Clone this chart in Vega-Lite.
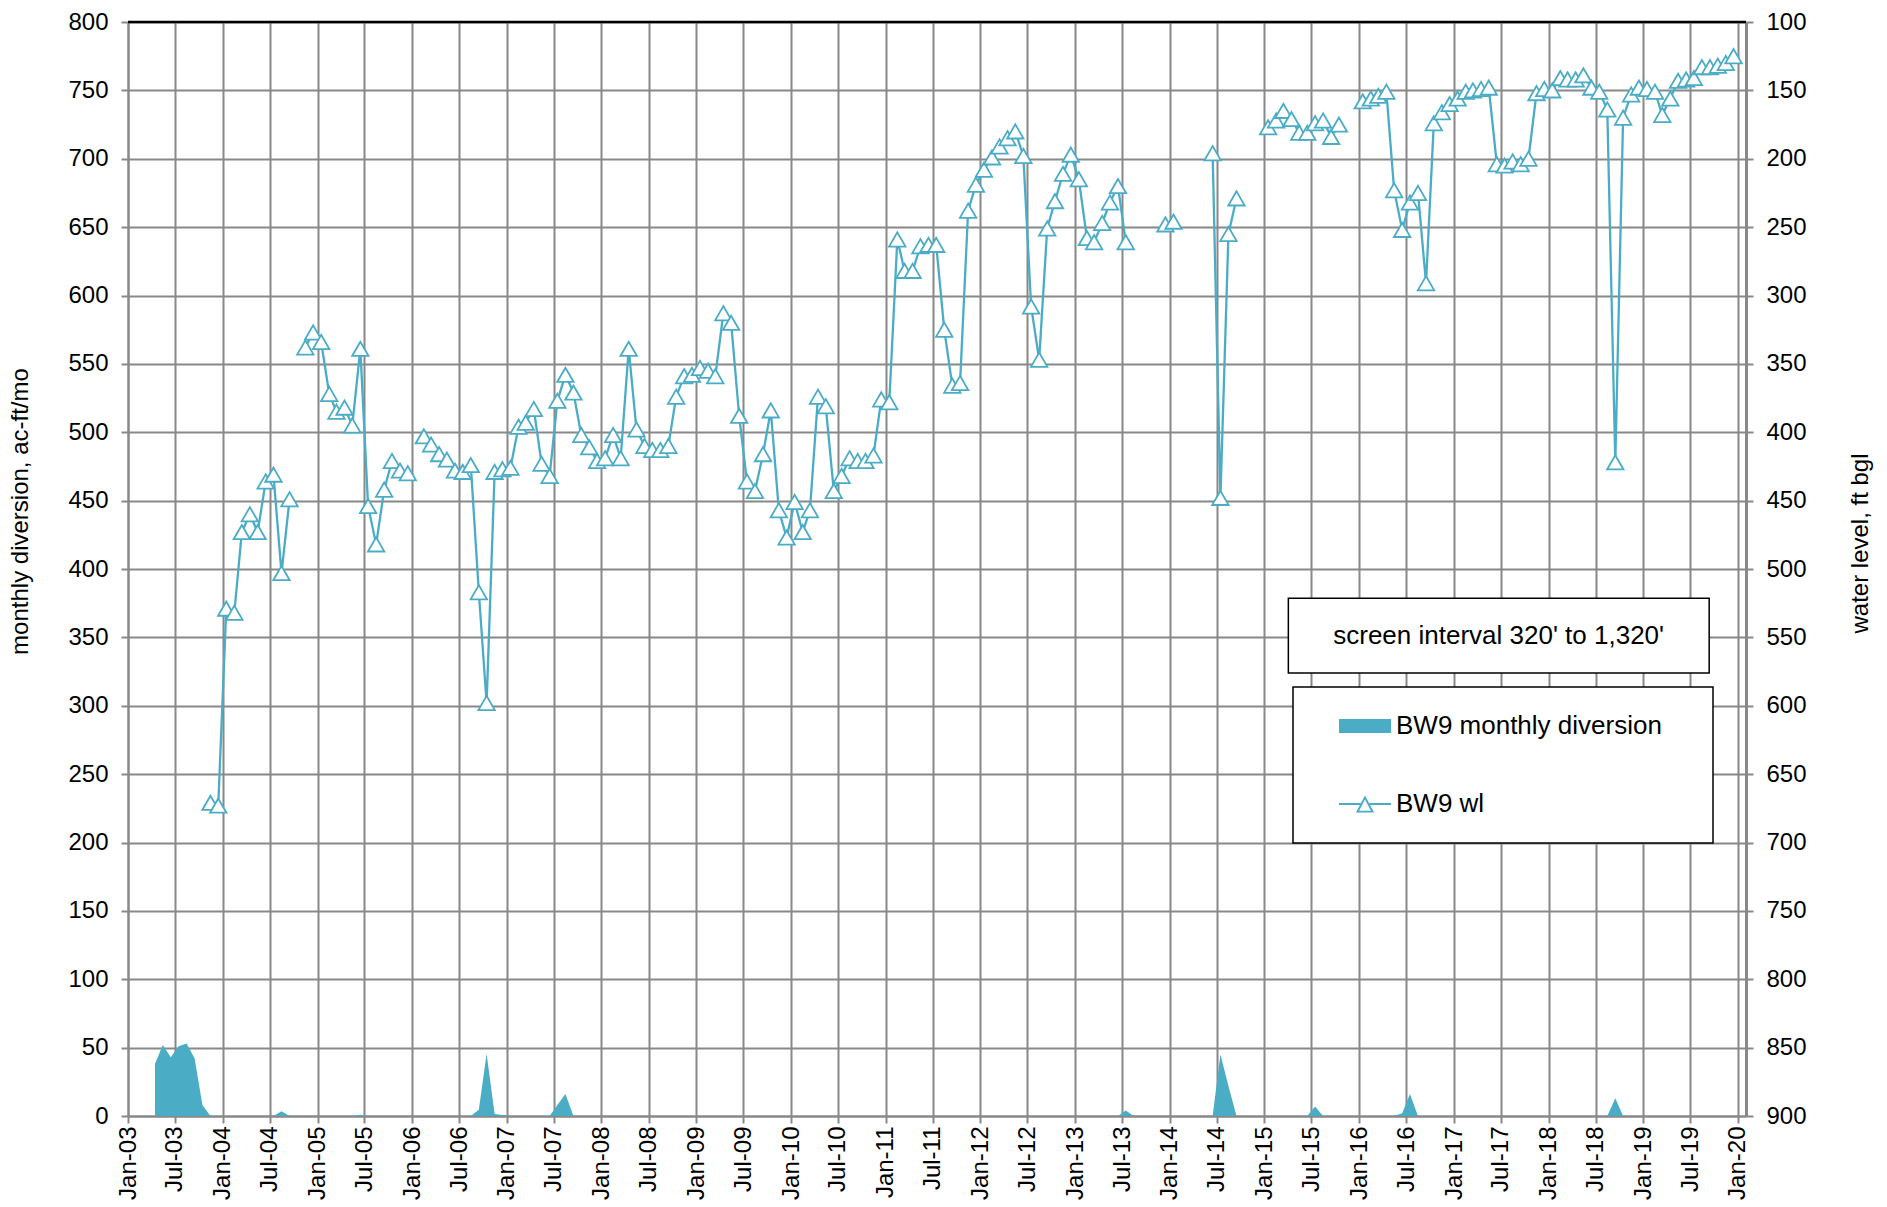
{
"$schema": "https://vega.github.io/schema/vega-lite/v6.json",
"width": 1618, "height": 1094,
"autosize": {"type": "none"},
"padding": {"left": 128, "top": 22, "right": 141, "bottom": 91},
"background": "white",
"config": {
  "font": "Liberation Sans",
  "view": {"stroke": null},
  "axis": {"labelFontSize": 24, "labelColor": "#000", "titleFontSize": 24, "titleFontWeight": "normal", "titleColor": "#000", "gridColor": "#888888", "gridWidth": 2, "gridOpacity": 1, "domainColor": "#888888", "domainWidth": 2, "tickColor": "#888888", "tickWidth": 2, "tickSize": 7},
  "legend": {"symbolStrokeWidth": 0}
},
"datasets": {
"div": [
{"date":"2003-04-15","div":38},{"date":"2003-05-15","div":52},{"date":"2003-06-15","div":43},{"date":"2003-07-15","div":51},{"date":"2003-08-15","div":53},{"date":"2003-09-15","div":42},{"date":"2003-10-15","div":8},{"date":"2003-11-15","div":0},{"date":"2003-12-15","div":0},
{"date":"2004-01-15","div":0},{"date":"2004-02-15","div":0},{"date":"2004-03-15","div":0},{"date":"2004-04-15","div":0},{"date":"2004-05-15","div":0},{"date":"2004-06-15","div":0},{"date":"2004-07-15","div":0},{"date":"2004-08-15","div":3.5},{"date":"2004-09-15","div":0},{"date":"2004-10-15","div":0},{"date":"2004-11-15","div":0},{"date":"2004-12-15","div":0},
{"date":"2005-01-15","div":0},{"date":"2005-02-15","div":0},{"date":"2005-03-15","div":0},{"date":"2005-04-15","div":0},{"date":"2005-05-15","div":0},{"date":"2005-06-15","div":1},{"date":"2005-07-15","div":0},{"date":"2005-08-15","div":0},{"date":"2005-09-15","div":0},{"date":"2005-10-15","div":0},{"date":"2005-11-15","div":0},{"date":"2005-12-15","div":0},
{"date":"2006-01-15","div":0},{"date":"2006-02-15","div":0},{"date":"2006-03-15","div":0},{"date":"2006-04-15","div":0},{"date":"2006-05-15","div":0},{"date":"2006-06-15","div":0},{"date":"2006-07-15","div":0},{"date":"2006-08-15","div":0},{"date":"2006-09-15","div":4.5},{"date":"2006-10-15","div":45.5},{"date":"2006-11-15","div":1.5},{"date":"2006-12-15","div":0.8},
{"date":"2007-01-15","div":0},{"date":"2007-02-15","div":0},{"date":"2007-03-15","div":0},{"date":"2007-04-15","div":0},{"date":"2007-05-15","div":0},{"date":"2007-06-15","div":0},{"date":"2007-07-15","div":8},{"date":"2007-08-15","div":16},{"date":"2007-09-15","div":0},{"date":"2007-10-15","div":0},{"date":"2007-11-15","div":0},{"date":"2007-12-15","div":0},
{"date":"2008-01-15","div":0},{"date":"2008-02-15","div":0},{"date":"2008-03-15","div":0},{"date":"2008-04-15","div":0},{"date":"2008-05-15","div":0},{"date":"2008-06-15","div":0},{"date":"2008-07-15","div":0},{"date":"2008-08-15","div":0},{"date":"2008-09-15","div":0},{"date":"2008-10-15","div":0},{"date":"2008-11-15","div":0},{"date":"2008-12-15","div":0},
{"date":"2009-01-15","div":0},{"date":"2009-02-15","div":0},{"date":"2009-03-15","div":0},{"date":"2009-04-15","div":0},{"date":"2009-05-15","div":0},{"date":"2009-06-15","div":0},{"date":"2009-07-15","div":0},{"date":"2009-08-15","div":0},{"date":"2009-09-15","div":0},{"date":"2009-10-15","div":0},{"date":"2009-11-15","div":0},{"date":"2009-12-15","div":0},
{"date":"2010-01-15","div":0},{"date":"2010-02-15","div":0},{"date":"2010-03-15","div":0},{"date":"2010-04-15","div":0},{"date":"2010-05-15","div":0},{"date":"2010-06-15","div":0},{"date":"2010-07-15","div":0},{"date":"2010-08-15","div":0},{"date":"2010-09-15","div":0},{"date":"2010-10-15","div":0},{"date":"2010-11-15","div":0},{"date":"2010-12-15","div":0},
{"date":"2011-01-15","div":0},{"date":"2011-02-15","div":0},{"date":"2011-03-15","div":0},{"date":"2011-04-15","div":0},{"date":"2011-05-15","div":0},{"date":"2011-06-15","div":0},{"date":"2011-07-15","div":0},{"date":"2011-08-15","div":0},{"date":"2011-09-15","div":0},{"date":"2011-10-15","div":0},{"date":"2011-11-15","div":0},{"date":"2011-12-15","div":0},
{"date":"2012-01-15","div":0},{"date":"2012-02-15","div":0},{"date":"2012-03-15","div":0},{"date":"2012-04-15","div":0},{"date":"2012-05-15","div":0},{"date":"2012-06-15","div":0},{"date":"2012-07-15","div":0},{"date":"2012-08-15","div":0},{"date":"2012-09-15","div":0},{"date":"2012-10-15","div":0},{"date":"2012-11-15","div":0},{"date":"2012-12-15","div":0},
{"date":"2013-01-15","div":0},{"date":"2013-02-15","div":0},{"date":"2013-03-15","div":0},{"date":"2013-04-15","div":0},{"date":"2013-05-15","div":0},{"date":"2013-06-15","div":0},{"date":"2013-07-15","div":4},{"date":"2013-08-15","div":0},{"date":"2013-09-15","div":0},{"date":"2013-10-15","div":0},{"date":"2013-11-15","div":0},{"date":"2013-12-15","div":0},
{"date":"2014-01-15","div":0},{"date":"2014-02-15","div":0},{"date":"2014-03-15","div":0},{"date":"2014-04-15","div":0},{"date":"2014-05-15","div":0},{"date":"2014-06-15","div":0},{"date":"2014-07-15","div":45},{"date":"2014-08-15","div":22},{"date":"2014-09-15","div":0},{"date":"2014-10-15","div":0},{"date":"2014-11-15","div":0},{"date":"2014-12-15","div":0},
{"date":"2015-01-15","div":0},{"date":"2015-02-15","div":0},{"date":"2015-03-15","div":0},{"date":"2015-04-15","div":0},{"date":"2015-05-15","div":0},{"date":"2015-06-15","div":0},{"date":"2015-07-15","div":7},{"date":"2015-08-15","div":0},{"date":"2015-09-15","div":0},{"date":"2015-10-15","div":0},{"date":"2015-11-15","div":0},{"date":"2015-12-15","div":0},
{"date":"2016-01-15","div":0},{"date":"2016-02-15","div":0},{"date":"2016-03-15","div":0},{"date":"2016-04-15","div":0},{"date":"2016-05-15","div":0},{"date":"2016-06-15","div":2},{"date":"2016-07-15","div":16},{"date":"2016-08-15","div":0},{"date":"2016-09-15","div":0},{"date":"2016-10-15","div":0},{"date":"2016-11-15","div":0},{"date":"2016-12-15","div":0},
{"date":"2017-01-15","div":0},{"date":"2017-02-15","div":0},{"date":"2017-03-15","div":0},{"date":"2017-04-15","div":0},{"date":"2017-05-15","div":0},{"date":"2017-06-15","div":0},{"date":"2017-07-15","div":0},{"date":"2017-08-15","div":0},{"date":"2017-09-15","div":0},{"date":"2017-10-15","div":0},{"date":"2017-11-15","div":0},{"date":"2017-12-15","div":0},
{"date":"2018-01-15","div":0},{"date":"2018-02-15","div":0},{"date":"2018-03-15","div":0},{"date":"2018-04-15","div":0},{"date":"2018-05-15","div":0},{"date":"2018-06-15","div":0},{"date":"2018-07-15","div":0},{"date":"2018-08-15","div":0},{"date":"2018-09-15","div":13},{"date":"2018-10-15","div":0},{"date":"2018-11-15","div":0},{"date":"2018-12-15","div":0},
{"date":"2019-01-15","div":0},{"date":"2019-02-15","div":0},{"date":"2019-03-15","div":0},{"date":"2019-04-15","div":0},{"date":"2019-05-15","div":0},{"date":"2019-06-15","div":0},{"date":"2019-07-15","div":0},{"date":"2019-08-15","div":0},{"date":"2019-09-15","div":0},{"date":"2019-10-15","div":0},{"date":"2019-11-15","div":0},{"date":"2019-12-15","div":0}
],
"wl": [
{"date":"2003-11-15","wl":671,"seg":1},{"date":"2003-12-15","wl":673,"seg":1},{"date":"2004-01-15","wl":529,"seg":1},{"date":"2004-02-15","wl":532,"seg":1},{"date":"2004-03-15","wl":473,"seg":1},{"date":"2004-04-15","wl":460,"seg":1},{"date":"2004-05-15","wl":473,"seg":1},{"date":"2004-06-15","wl":436,"seg":1},{"date":"2004-07-15","wl":431,"seg":1},{"date":"2004-08-15","wl":503,"seg":1},{"date":"2004-09-15","wl":449,"seg":1},
{"date":"2004-11-15","wl":338,"seg":2},{"date":"2004-12-15","wl":327,"seg":2},{"date":"2005-01-15","wl":334,"seg":2},{"date":"2005-02-15","wl":372,"seg":2},{"date":"2005-03-15","wl":385,"seg":2},{"date":"2005-04-15","wl":382,"seg":2},{"date":"2005-05-15","wl":395,"seg":2},{"date":"2005-06-15","wl":339,"seg":2},{"date":"2005-07-15","wl":454,"seg":2},{"date":"2005-08-15","wl":482,"seg":2},{"date":"2005-09-15","wl":442,"seg":2},{"date":"2005-10-15","wl":421,"seg":2},{"date":"2005-11-15","wl":428,"seg":2},{"date":"2005-12-15","wl":430,"seg":2},
{"date":"2006-02-15","wl":403,"seg":3},{"date":"2006-03-15","wl":409,"seg":3},{"date":"2006-04-15","wl":416,"seg":3},{"date":"2006-05-15","wl":420,"seg":3},{"date":"2006-06-15","wl":428,"seg":3},{"date":"2006-07-15","wl":429,"seg":3},{"date":"2006-08-15","wl":424,"seg":3},{"date":"2006-09-15","wl":517,"seg":3},{"date":"2006-10-15","wl":598,"seg":3},{"date":"2006-11-15","wl":429,"seg":3},{"date":"2006-12-15","wl":427,"seg":3},
{"date":"2007-01-15","wl":426,"seg":3},{"date":"2007-02-15","wl":396,"seg":3},{"date":"2007-03-15","wl":393,"seg":3},{"date":"2007-04-15","wl":383,"seg":3},{"date":"2007-05-15","wl":423,"seg":3},{"date":"2007-06-15","wl":432,"seg":3},{"date":"2007-07-15","wl":377,"seg":3},{"date":"2007-08-15","wl":358,"seg":3},{"date":"2007-09-15","wl":371,"seg":3},{"date":"2007-10-15","wl":402,"seg":3},{"date":"2007-11-15","wl":411,"seg":3},{"date":"2007-12-15","wl":421,"seg":3},
{"date":"2008-01-15","wl":419,"seg":3},{"date":"2008-02-15","wl":402,"seg":3},{"date":"2008-03-15","wl":419,"seg":3},{"date":"2008-04-15","wl":339,"seg":3},{"date":"2008-05-15","wl":398,"seg":3},{"date":"2008-06-15","wl":410,"seg":3},{"date":"2008-07-15","wl":413,"seg":3},{"date":"2008-08-15","wl":413,"seg":3},{"date":"2008-09-15","wl":410,"seg":3},{"date":"2008-10-15","wl":374,"seg":3},{"date":"2008-11-15","wl":359,"seg":3},{"date":"2008-12-15","wl":358,"seg":3},
{"date":"2009-01-15","wl":353,"seg":3},{"date":"2009-02-15","wl":355,"seg":3},{"date":"2009-03-15","wl":359,"seg":3},{"date":"2009-04-15","wl":313,"seg":3},{"date":"2009-05-15","wl":320,"seg":3},{"date":"2009-06-15","wl":388,"seg":3},{"date":"2009-07-15","wl":436,"seg":3},{"date":"2009-08-15","wl":443,"seg":3},{"date":"2009-09-15","wl":416,"seg":3},{"date":"2009-10-15","wl":384,"seg":3},{"date":"2009-11-15","wl":457,"seg":3},{"date":"2009-12-15","wl":477,"seg":3},
{"date":"2010-01-15","wl":451,"seg":3},{"date":"2010-02-15","wl":473,"seg":3},{"date":"2010-03-15","wl":457,"seg":3},{"date":"2010-04-15","wl":374,"seg":3},{"date":"2010-05-15","wl":381,"seg":3},{"date":"2010-06-15","wl":443,"seg":3},{"date":"2010-07-15","wl":432,"seg":3},{"date":"2010-08-15","wl":419,"seg":3},{"date":"2010-09-15","wl":421,"seg":3},{"date":"2010-10-15","wl":421,"seg":3},{"date":"2010-11-15","wl":417,"seg":3},{"date":"2010-12-15","wl":376,"seg":3},
{"date":"2011-01-15","wl":378,"seg":3},{"date":"2011-02-15","wl":259,"seg":3},{"date":"2011-03-15","wl":282,"seg":3},{"date":"2011-04-15","wl":282,"seg":3},{"date":"2011-05-15","wl":264,"seg":3},{"date":"2011-06-15","wl":263,"seg":3},{"date":"2011-07-15","wl":263,"seg":3},{"date":"2011-08-15","wl":325,"seg":3},{"date":"2011-09-15","wl":366,"seg":3},{"date":"2011-10-15","wl":364,"seg":3},{"date":"2011-11-15","wl":238,"seg":3},{"date":"2011-12-15","wl":219,"seg":3},
{"date":"2012-01-15","wl":208,"seg":3},{"date":"2012-02-15","wl":199,"seg":3},{"date":"2012-03-15","wl":191,"seg":3},{"date":"2012-04-15","wl":185,"seg":3},{"date":"2012-05-15","wl":180,"seg":3},{"date":"2012-06-15","wl":198,"seg":3},{"date":"2012-07-15","wl":308,"seg":3},{"date":"2012-08-15","wl":347,"seg":3},{"date":"2012-09-15","wl":251,"seg":3},{"date":"2012-10-15","wl":231,"seg":3},{"date":"2012-11-15","wl":211,"seg":3},{"date":"2012-12-15","wl":197,"seg":3},
{"date":"2013-01-15","wl":215,"seg":3},{"date":"2013-02-15","wl":258,"seg":3},{"date":"2013-03-15","wl":261,"seg":3},{"date":"2013-04-15","wl":247,"seg":3},{"date":"2013-05-15","wl":232,"seg":3},{"date":"2013-06-15","wl":220,"seg":3},{"date":"2013-07-15","wl":261,"seg":3},
{"date":"2013-12-15","wl":248,"seg":4},{"date":"2014-01-15","wl":246,"seg":4},
{"date":"2014-06-15","wl":196,"seg":5},{"date":"2014-07-15","wl":448,"seg":5},{"date":"2014-08-15","wl":255,"seg":5},{"date":"2014-09-15","wl":229,"seg":5},
{"date":"2015-01-15","wl":177,"seg":6},{"date":"2015-02-15","wl":172,"seg":6},{"date":"2015-03-15","wl":165,"seg":6},{"date":"2015-04-15","wl":171,"seg":6},{"date":"2015-05-15","wl":181,"seg":6},{"date":"2015-06-15","wl":181,"seg":6},{"date":"2015-07-15","wl":174,"seg":6},{"date":"2015-08-15","wl":172,"seg":6},{"date":"2015-09-15","wl":184,"seg":6},{"date":"2015-10-15","wl":175,"seg":6},
{"date":"2016-01-15","wl":158,"seg":7},{"date":"2016-02-15","wl":156,"seg":7},{"date":"2016-03-15","wl":154,"seg":7},{"date":"2016-04-15","wl":151,"seg":7},{"date":"2016-05-15","wl":223,"seg":7},{"date":"2016-06-15","wl":252,"seg":7},{"date":"2016-07-15","wl":232,"seg":7},{"date":"2016-08-15","wl":225,"seg":7},{"date":"2016-09-15","wl":291,"seg":7},{"date":"2016-10-15","wl":174,"seg":7},{"date":"2016-11-15","wl":166,"seg":7},{"date":"2016-12-15","wl":160,"seg":7},
{"date":"2017-01-15","wl":156,"seg":7},{"date":"2017-02-15","wl":151,"seg":7},{"date":"2017-03-15","wl":150,"seg":7},{"date":"2017-04-15","wl":149,"seg":7},{"date":"2017-05-15","wl":148,"seg":7},{"date":"2017-06-15","wl":204,"seg":7},{"date":"2017-07-15","wl":205,"seg":7},{"date":"2017-08-15","wl":202,"seg":7},{"date":"2017-09-15","wl":204,"seg":7},{"date":"2017-10-15","wl":200,"seg":7},{"date":"2017-11-15","wl":152,"seg":7},{"date":"2017-12-15","wl":149,"seg":7},
{"date":"2018-01-15","wl":150,"seg":7},{"date":"2018-02-15","wl":141,"seg":7},{"date":"2018-03-15","wl":142,"seg":7},{"date":"2018-04-15","wl":142,"seg":7},{"date":"2018-05-15","wl":139,"seg":7},{"date":"2018-06-15","wl":148,"seg":7},{"date":"2018-07-15","wl":151,"seg":7},{"date":"2018-08-15","wl":164,"seg":7},{"date":"2018-09-15","wl":422,"seg":7},{"date":"2018-10-15","wl":170,"seg":7},{"date":"2018-11-15","wl":153,"seg":7},{"date":"2018-12-15","wl":148,"seg":7},
{"date":"2019-01-15","wl":149,"seg":7},{"date":"2019-02-15","wl":151,"seg":7},{"date":"2019-03-15","wl":168,"seg":7},{"date":"2019-04-15","wl":156,"seg":7},{"date":"2019-05-15","wl":143,"seg":7},{"date":"2019-06-15","wl":142,"seg":7},{"date":"2019-07-15","wl":141,"seg":7},{"date":"2019-08-15","wl":133,"seg":7},{"date":"2019-09-15","wl":133,"seg":7},{"date":"2019-10-15","wl":132,"seg":7},{"date":"2019-11-15","wl":130,"seg":7},{"date":"2019-12-15","wl":125,"seg":7}
]
},
"layer": [
 {"layer": [
  {"data": {"name": "div"},
   "mark": {"type": "area", "opacity": 1, "interpolate": "linear"},
   "encoding": {
    "x": {"field": "date", "type": "temporal", "scale": {"domain": [{"year": 2003, "month": 1, "date": 1}, {"year": 2020, "month": 2, "date": 1}], "nice": false},
          "axis": {"title": null, "format": "%b-%y", "labelAngle": -90, "labelPadding": 3, "tickCount": {"interval": "month", "step": 6}, "grid": true, "labelFlush": false, "labelOverlap": false, "labelBound": false}},
    "y": {"field": "div", "type": "quantitative", "scale": {"domain": [0, 800], "nice": false, "zero": true},
          "axis": {"title": "monthly diversion, ac-ft/mo", "values": [0,50,100,150,200,250,300,350,400,450,500,550,600,650,700,750,800], "grid": true, "labelPadding": 13, "titleX": -108, "titleY": 489, "titleAngle": -90, "titleAlign": "center", "titleBaseline": "middle"}},
    "color": {"datum": "BW9 monthly diversion", "type": "nominal",
              "scale": {"domain": ["BW9 monthly diversion", "BW9 wl"], "range": ["#4BACC6", "#4BACC6"]},
              "legend": {"title": null, "orient": "none", "legendX": 1165, "legendY": 665, "padding": 26, "rowPadding": 52, "strokeColor": "#000000", "fillColor": "#ffffff", "labelFontSize": 26, "labelColor": "#000000", "labelOffset": 18, "symbolOffset": 33, "symbolSize": 676, "labelLimit": 600,
                "encode": {
                  "legend": {"update": {"strokeWidth": {"value": 1.5}}},
                  "symbols": {"update": {
                   "shape": {"signal": "datum.value === 'BW9 wl' ? 'M-2,-0.08H-0.34V0.08H-2Z M0.34,-0.08H2V0.08H0.34Z M0,-0.66L0.7,0.66L-0.7,0.66Z M0,-0.34L-0.45,0.51L0.45,0.51Z' : 'M-2,-0.54H2V0.54H-2Z M24.7,0L24.7,0.005L24.695,0.005Z'"},
                   "fill": {"value": "#4BACC6"},
                   "stroke": {"value": "transparent"},
                   "strokeWidth": {"value": 0},
                   "size": {"value": 676},
                   "opacity": {"value": 1}}}}}}
   }},
  {"data": {"values": [{}]},
   "mark": {"type": "rule", "color": "#000000", "strokeWidth": 2.5},
   "encoding": {"y": {"datum": 800, "type": "quantitative"}}},
  {"data": {"values": [{}]},
   "mark": {"type": "rect", "fill": "#ffffff", "stroke": "#000000", "strokeWidth": 1.5},
   "encoding": {"x": {"datum": {"year": 2015, "month": 4, "date": 3}, "type": "temporal"}, "x2": {"datum": {"year": 2019, "month": 9, "date": 12}},
                "y": {"datum": 378.7, "type": "quantitative"}, "y2": {"datum": 323.9}}},
  {"data": {"values": [{}]},
   "mark": {"type": "text", "text": "screen interval 320' to 1,320'", "fontSize": 26, "align": "center", "baseline": "middle", "color": "#000000"},
   "encoding": {"x": {"datum": {"year": 2017, "month": 6, "date": 22}, "type": "temporal"}, "y": {"datum": 351, "type": "quantitative"}}}
 ]},
 {"layer": [
  {"data": {"name": "wl"},
   "mark": {"type": "line", "strokeWidth": 2.3},
   "encoding": {
    "x": {"field": "date", "type": "temporal"},
    "y": {"field": "wl", "type": "quantitative", "scale": {"domain": [100, 900], "reverse": true, "nice": false},
          "axis": {"orient": "right", "title": "water level, ft bgl", "values": [100,150,200,250,300,350,400,450,500,550,600,650,700,750,800,850,900], "grid": false, "domainWidth": 3, "labelPadding": 13, "titleAngle": -90, "titleX": 114, "titleY": 521, "titleAlign": "center", "titleBaseline": "middle"}},
    "detail": {"field": "seg", "type": "nominal"},
    "color": {"datum": "BW9 wl", "type": "nominal",
              "scale": {"domain": ["BW9 monthly diversion", "BW9 wl"], "range": ["#4BACC6", "#4BACC6"]},
              "legend": {"title": null, "orient": "none", "legendX": 1165, "legendY": 665, "padding": 26, "rowPadding": 52, "strokeColor": "#000000", "fillColor": "#ffffff", "labelFontSize": 26, "labelColor": "#000000", "labelOffset": 18, "symbolOffset": 33, "symbolSize": 676, "labelLimit": 600,
                "encode": {
                  "legend": {"update": {"strokeWidth": {"value": 1.5}}},
                  "symbols": {"update": {
                   "shape": {"signal": "datum.value === 'BW9 wl' ? 'M-2,-0.08H-0.34V0.08H-2Z M0.34,-0.08H2V0.08H0.34Z M0,-0.66L0.7,0.66L-0.7,0.66Z M0,-0.34L-0.45,0.51L0.45,0.51Z' : 'M-2,-0.54H2V0.54H-2Z M24.7,0L24.7,0.005L24.695,0.005Z'"},
                   "fill": {"value": "#4BACC6"},
                   "stroke": {"value": "transparent"},
                   "strokeWidth": {"value": 0},
                   "size": {"value": 676},
                   "opacity": {"value": 1}}}}}}
   }},
  {"data": {"name": "wl"},
   "mark": {"type": "point", "shape": "triangle-up", "size": 270, "filled": true, "fill": "#ffffff", "stroke": "#4BACC6", "strokeWidth": 1.8, "opacity": 1},
   "encoding": {
    "x": {"field": "date", "type": "temporal"},
    "y": {"field": "wl", "type": "quantitative"}
   }}
 ]}
],
"resolve": {"scale": {"y": "independent"}}
}
